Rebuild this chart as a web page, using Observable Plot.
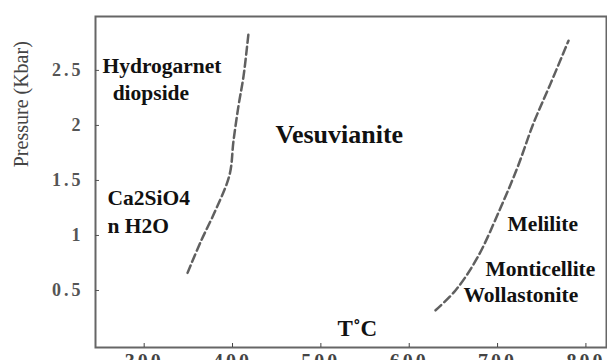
<!DOCTYPE html>
<html><head><meta charset="utf-8">
<script src="https://cdn.jsdelivr.net/npm/d3@7"></script>
<script src="https://cdn.jsdelivr.net/npm/@observablehq/plot@0.6"></script>
<style>
body{margin:0;background:#fff}
svg, svg text, svg g{font-family:"Liberation Serif","Times New Roman",serif !important}
g[aria-label="y-axis tick label"] text{letter-spacing:3px}
g[aria-label="x-axis tick label"] text{letter-spacing:3px}
</style></head><body><div id="chart"></div>
<script>
const xTicks = [300, 400, 500, 600, 700, 800];
const yTicks = [0.5, 1, 1.5, 2, 2.5];
const leftT  = [350.8, 365.5, 382.5, 398.3, 402.8, 408.5, 414.2, 419.8];
const leftP  = [0.66, 0.94, 1.23, 1.55, 1.86, 2.18, 2.45, 2.84];
const rightT = [631.5, 654, 679, 705, 724.3, 742.4, 761.7, 782];
const rightP = [0.32, 0.5, 0.8, 1.25, 1.62, 2.02, 2.38, 2.77];
const regionNames = ["Hydrogarnet", "diopside", "Ca2SiO4", "n H2O", "Melilite", "Monticellite", "Wollastonite"];
const regionT = [254.5, 266, 260.2, 260.2, 713, 688, 663.2];
const regionP = [2.473, 2.227, 1.273, 1.018, 1.045, 0.636, 0.391];
const mainName = ["Vesuvianite"];
const mainT = [450.4];
const mainP = [1.836];
const xTitle = ["T˚C"];
const xTitleT = [520.6];
const xTitleP = [0.082];
const yTitle = ["Pressure (Kbar)"];
const yTitleP = [1.62];

const leftLine = leftT.map((t, i) => ({t, p: leftP[i]}));
const rightLine = rightT.map((t, i) => ({t, p: rightP[i]}));
const serif = "Liberation Serif, Times New Roman, serif";

const chart = Plot.plot({
  width: 607, height: 360,
  marginLeft: 95, marginRight: 1, marginTop: 16, marginBottom: 13,
  style: {fontFamily: serif, background: "#fff"},
  x: {domain: [246.6, 825]},
  y: {domain: [-0.018, 2.99]},
  marks: [
    Plot.frame({stroke: "#666", strokeWidth: 2}),
    Plot.axisX(xTicks, {anchor: "bottom", tickSize: -4, tickPadding: 10, dx: 1.5, fontSize: 20, fontWeight: "bold", fontFamily: serif, color: "#444", label: null}),
    Plot.axisY(yTicks, {anchor: "left", tickSize: -4, tickPadding: 16, fontSize: 18, fontWeight: "bold", fontFamily: serif, color: "#555", label: null, tickFormat: d => String(d)}),
    Plot.line(leftLine, {x: "t", y: "p", curve: "catmull-rom", stroke: "#606060", strokeWidth: 2.5, strokeDasharray: "8,4"}),
    Plot.line(rightLine, {x: "t", y: "p", curve: "catmull-rom", stroke: "#606060", strokeWidth: 2.5, strokeDasharray: "8,4"}),
    Plot.text(regionNames, {x: (d, i) => regionT[i], y: (d, i) => regionP[i], text: d => d, textAnchor: "start", lineAnchor: "bottom", fontSize: 21.5, fontWeight: "bold", fontFamily: serif, fill: "#111"}),
    Plot.text(mainName, {x: (d, i) => mainT[i], y: (d, i) => mainP[i], text: d => d, textAnchor: "start", lineAnchor: "bottom", fontSize: 26, fontWeight: "bold", fontFamily: serif, fill: "#111"}),
    Plot.text(xTitle, {x: (d, i) => xTitleT[i], y: (d, i) => xTitleP[i], text: d => d, textAnchor: "start", lineAnchor: "bottom", fontSize: 23, fontWeight: "bold", fontFamily: serif, fill: "#111"}),
    Plot.text(yTitle, {frameAnchor: "left", dx: -74, y: (d, i) => yTitleP[i], text: d => d, rotate: -90, fontSize: 20, fontFamily: serif, fill: "#444"})
  ]
});
document.getElementById("chart").appendChild(chart);
</script></body></html>
